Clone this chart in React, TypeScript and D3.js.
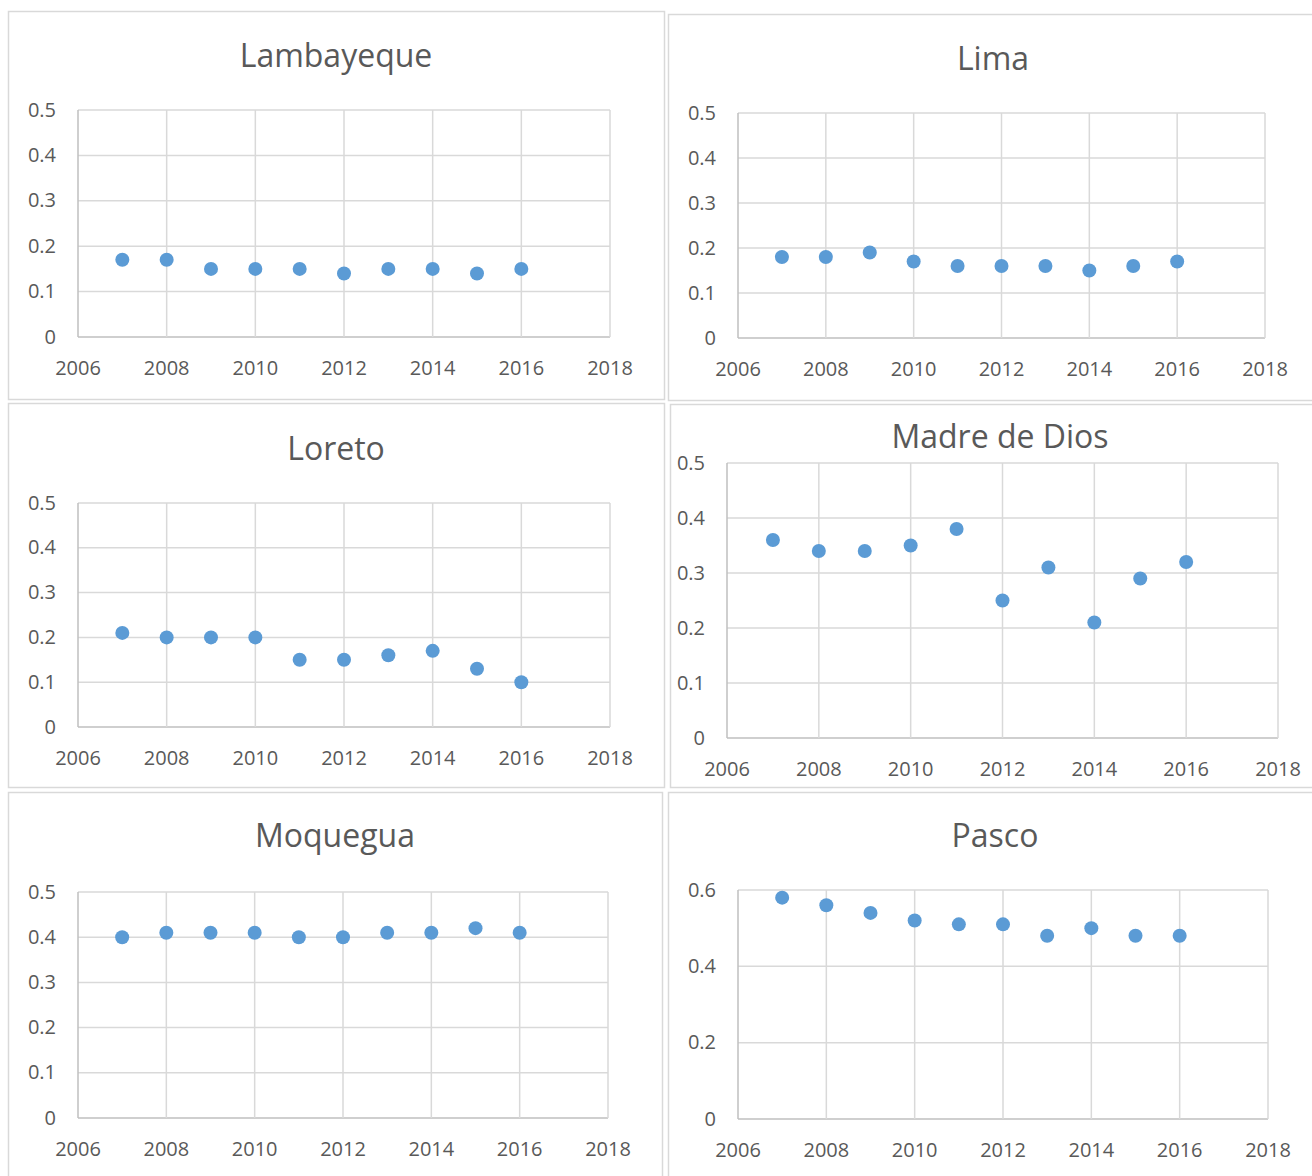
import React from "react";
import * as d3 from "d3";

const years = [2007, 2008, 2009, 2010, 2011, 2012, 2013, 2014, 2015, 2016];
const xTicks = [2006, 2008, 2010, 2012, 2014, 2016, 2018];

const lambayeque = [0.17, 0.17, 0.15, 0.15, 0.15, 0.14, 0.15, 0.15, 0.14, 0.15];
const lima = [0.18, 0.18, 0.19, 0.17, 0.16, 0.16, 0.16, 0.15, 0.16, 0.17];
const loreto = [0.21, 0.2, 0.2, 0.2, 0.15, 0.15, 0.16, 0.17, 0.13, 0.1];
const madreDeDios = [0.36, 0.34, 0.34, 0.35, 0.38, 0.25, 0.31, 0.21, 0.29, 0.32];
const moquegua = [0.4, 0.41, 0.41, 0.41, 0.4, 0.4, 0.41, 0.41, 0.42, 0.41];
const pasco = [0.58, 0.56, 0.54, 0.52, 0.51, 0.51, 0.48, 0.5, 0.48, 0.48];

const yTicksA = [0, 0.1, 0.2, 0.3, 0.4, 0.5];
const yTicksB = [0, 0.2, 0.4, 0.6];

const panels = [
  { title: "Lambayeque", values: lambayeque, yTicks: yTicksA, box: [8, 11, 656, 388], plot: [78, 110, 610, 337], titleX: 336, titleY: 54 },
  { title: "Lima", values: lima, yTicks: yTicksA, box: [668, 14, 660, 386], plot: [738, 113, 1265, 338], titleX: 993, titleY: 57 },
  { title: "Loreto", values: loreto, yTicks: yTicksA, box: [8, 403, 656, 384], plot: [78, 503, 610, 727], titleX: 336, titleY: 447 },
  { title: "Madre de Dios", values: madreDeDios, yTicks: yTicksA, box: [670, 404, 660, 383], plot: [727, 463, 1278, 738], titleX: 1000, titleY: 435 },
  { title: "Moquegua", values: moquegua, yTicks: yTicksA, box: [8, 792, 654, 400], plot: [78, 892, 608, 1118], titleX: 335, titleY: 834 },
  { title: "Pasco", values: pasco, yTicks: yTicksB, box: [668, 792, 660, 400], plot: [738, 890, 1268, 1119], titleX: 995, titleY: 834 },
];

const FONT = "'Open Sans', 'DejaVu Sans', sans-serif";
const TEXT = "#595959";

function Panel({ p }: { p: any }) {
  const [x0, y0, x1, y1] = p.plot;
  const x = d3.scaleLinear().domain([2006, 2018]).range([x0, x1]);
  const yMax = p.yTicks[p.yTicks.length - 1];
  const y = d3.scaleLinear().domain([0, yMax]).range([y1, y0]);
  const [bx, by, bw, bh] = p.box;
  return (
    <g>
      <rect x={bx + 0.5} y={by + 0.5} width={bw} height={bh} fill="#fff" stroke="#d9d9d9" strokeWidth={1.5} />
      <text x={p.titleX} y={p.titleY} textAnchor="middle" dominantBaseline="central" fontFamily={FONT} fontSize={32} fill={TEXT}>
        {p.title}
      </text>
      {p.yTicks.map((t: number) => (
        <line key={"h" + t} x1={x0} x2={x1} y1={y(t)} y2={y(t)} stroke={t === 0 ? "#bfbfbf" : "#d9d9d9"} strokeWidth={1.5} />
      ))}
      {xTicks.map((t) => (
        <line key={"v" + t} x1={x(t)} x2={x(t)} y1={y0} y2={y1} stroke={t === 2006 ? "#bfbfbf" : "#d9d9d9"} strokeWidth={1.5} />
      ))}
      {p.yTicks.map((t: number) => (
        <text key={"yl" + t} x={x0 - 22} y={y(t) - 1} textAnchor="end" dominantBaseline="central" fontFamily={FONT} fontSize={20} fill={TEXT}>
          {d3.format("")(t)}
        </text>
      ))}
      {xTicks.map((t) => (
        <text key={"xl" + t} x={x(t)} y={y1 + 30} textAnchor="middle" dominantBaseline="central" fontFamily={FONT} fontSize={20} fill={TEXT}>
          {t}
        </text>
      ))}
      {years.map((yr, i) => (
        <circle key={yr} cx={x(yr)} cy={y(p.values[i])} r={7} fill="#5b9bd5" />
      ))}
    </g>
  );
}

export default function App() {
  return (
    <svg width={1312} height={1176} style={{ position: "absolute", left: 0, top: 0, background: "#fff" }}>
      <rect width={1312} height={1176} fill="#fff" />
      {panels.map((p) => (
        <Panel key={p.title} p={p} />
      ))}
    </svg>
  );
}
